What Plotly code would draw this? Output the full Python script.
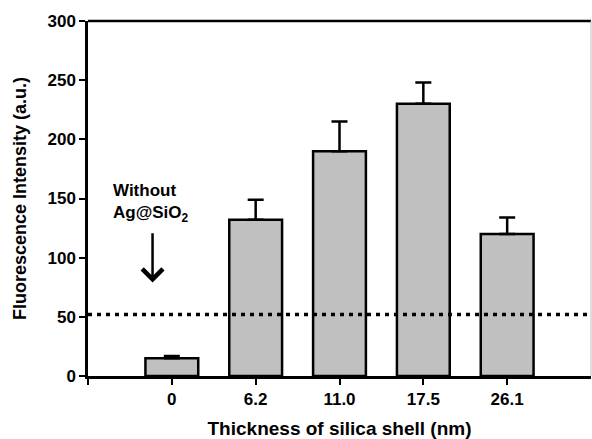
import plotly.graph_objects as go

categories = ["0", "6.2", "11.0", "17.5", "26.1"]
intensity = [15, 132, 190, 230, 120]
errors = [2, 17, 25, 18, 14]
threshold = 52
y_ticks = [0, 50, 100, 150, 200, 250, 300]

xpos = list(range(len(categories)))

fig = go.Figure()
fig.add_trace(go.Bar(
    x=xpos, y=intensity, width=0.63,
    marker=dict(color="#c0c0c0", line=dict(color="black", width=2.5)),
    error_y=dict(type="data", array=errors, arrayminus=[0]*len(errors),
                 symmetric=False, color="black", thickness=2.5, width=8),
))

font_b = "Liberation Sans"
fig.update_layout(
    width=592, height=439,
    margin=dict(l=88, r=1, t=21, b=63),
    paper_bgcolor="white", plot_bgcolor="white",
    showlegend=False,
    font=dict(family=font_b, color="black"),
    xaxis=dict(
        range=[-1, 5], tickvals=[-1] + xpos, ticktext=[""] + categories,
        ticks="outside", ticklen=6, tickwidth=2, tickcolor="black",
        showline=True, linecolor="black", linewidth=2.5,
        showgrid=False, zeroline=False,
        tickfont=dict(family=font_b, size=17, color="black", weight="bold"),
        title=dict(text="Thickness of silica shell (nm)", standoff=14,
                   font=dict(family=font_b, size=19, color="black", weight="bold")),
    ),
    yaxis=dict(
        range=[0, 300], tickvals=y_ticks,
        ticks="outside", ticklen=6, tickwidth=2, tickcolor="black",
        showline=True, linecolor="black", linewidth=2.5,
        showgrid=False, zeroline=False,
        tickfont=dict(family=font_b, size=17, color="black", weight="bold"),
        title=dict(text="Fluorescence Intensity (a.u.)", standoff=17,
                   font=dict(family=font_b, size=18, color="black", weight="bold")),
    ),
)

# top border and thin right border
fig.add_shape(type="line", xref="paper", yref="paper", x0=0, x1=1, y0=1, y1=1,
              line=dict(color="black", width=2.5))
fig.add_shape(type="line", xref="paper", yref="paper", x0=1, x1=1, y0=0, y1=1,
              line=dict(color="#bbbbbb", width=1))

# dotted threshold line
fig.add_shape(type="line", xref="paper", yref="y", x0=0, x1=1, y0=threshold, y1=threshold,
              line=dict(color="black", width=3.5, dash="4px,5px"))

# annotation text
fig.add_annotation(x=-0.73, y=146, xref="x", yref="y", xanchor="left", yanchor="middle",
                   text="Without<br>Ag@SiO<sub>2</sub>", showarrow=False, align="left",
                   font=dict(family=font_b, size=17, color="black", weight="bold"))
# arrow
fig.add_annotation(x=-0.23, y=79, ax=-0.23, ay=122, xref="x", yref="y", axref="x", ayref="y",
                   text="", showarrow=True, arrowhead=4, arrowsize=1.6, arrowwidth=2.5,
                   arrowcolor="black")

fig.write_html("out.html")
